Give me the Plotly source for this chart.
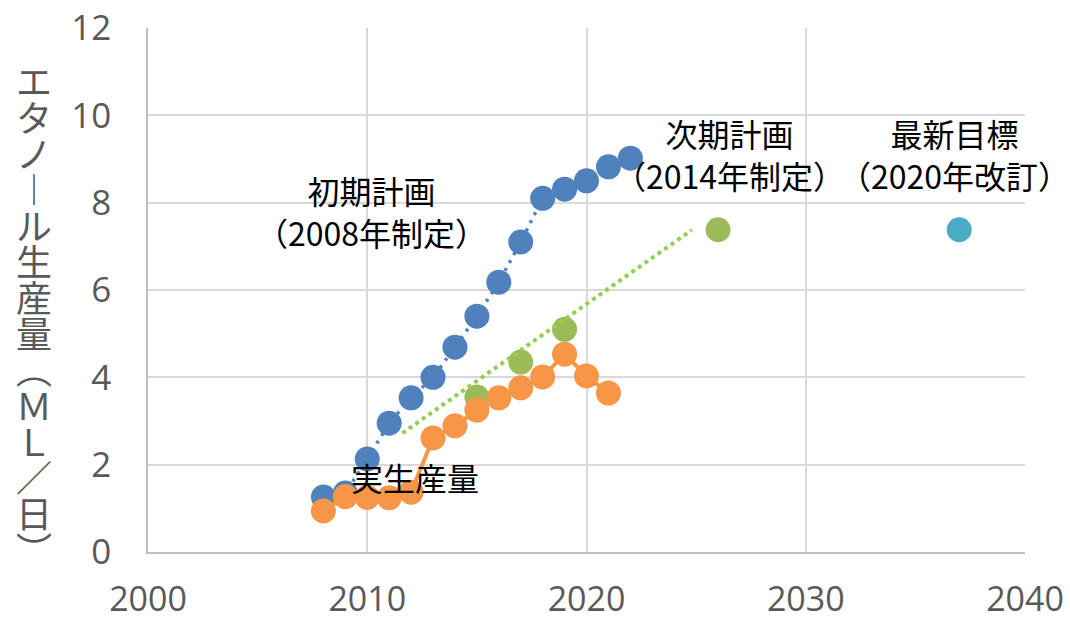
import plotly.graph_objects as go

# ---- data ----
plan2008_years = [2008, 2009, 2010, 2011, 2012, 2013, 2014, 2015, 2016, 2017, 2018, 2019, 2020, 2021, 2022]
plan2008_values = [1.26, 1.35, 2.13, 2.95, 3.53, 4.0, 4.69, 5.4, 6.18, 7.1, 8.1, 8.31, 8.5, 8.82, 9.02]

plan2014_years = [2015, 2017, 2019, 2026]
plan2014_values = [3.55, 4.35, 5.1, 7.38]

trend_years = [2011.6, 2024.8]
trend_values = [2.72, 7.37]

actual_years = [2008, 2009, 2010, 2011, 2012, 2013, 2014, 2015, 2016, 2017, 2018, 2019, 2020, 2021]
actual_values = [0.94, 1.27, 1.25, 1.24, 1.37, 2.61, 2.89, 3.25, 3.53, 3.76, 4.01, 4.53, 4.03, 3.64]

target2020_years = [2037]
target2020_values = [7.38]

x_ticks = [2000, 2010, 2020, 2030, 2040]
y_ticks = [0, 2, 4, 6, 8, 10, 12]

y_title_chars = ["エ", "タ", "ノ", "︱", "ル", "生", "産", "量", "︵", "Ｍ", "Ｌ", "／", "日", "︶"]

BLUE = "#4F81BD"
ORANGE = "#F79646"
GREEN = "#9BBB59"
TREND = "#92D050"
TEAL = "#4BACC6"
MS = 25

fig = go.Figure()

fig.add_trace(go.Scatter(
    x=plan2008_years, y=plan2008_values, mode="lines+markers",
    line=dict(color=BLUE, width=3.5, dash="3px,6px"),
    marker=dict(color=BLUE, size=MS, line=dict(width=0)),
    showlegend=False, hoverinfo="skip"))

fig.add_trace(go.Scatter(
    x=plan2014_years, y=plan2014_values, mode="markers",
    marker=dict(color=GREEN, size=MS, line=dict(width=0)),
    showlegend=False, hoverinfo="skip"))

fig.add_trace(go.Scatter(
    x=trend_years, y=trend_values, mode="lines",
    line=dict(color=TREND, width=4, dash="4px,4px"),
    showlegend=False, hoverinfo="skip"))

fig.add_trace(go.Scatter(
    x=actual_years, y=actual_values, mode="lines+markers",
    line=dict(color=ORANGE, width=4),
    marker=dict(color=ORANGE, size=MS, line=dict(width=0)),
    showlegend=False, hoverinfo="skip"))

fig.add_trace(go.Scatter(
    x=target2020_years, y=target2020_values, mode="markers",
    marker=dict(color=TEAL, size=MS, line=dict(width=0)),
    showlegend=False, hoverinfo="skip"))

CJK = "Noto Sans CJK JP"
ann_font = dict(family=CJK, size=32, color="#000000")

annotations = [
    dict(x=2010.2, y=7.81, xref="x", yref="y", text="初期計画<br>（2008年制定）",
         showarrow=False, font=ann_font, xanchor="center", yanchor="middle"),
    dict(x=2026.5, y=9.12, xref="x", yref="y", text="次期計画<br>（2014年制定）",
         showarrow=False, font=ann_font, xanchor="center", yanchor="middle"),
    dict(x=2036.8, y=9.12, xref="x", yref="y", text="最新目標<br>（2020年改訂）",
         showarrow=False, font=ann_font, xanchor="center", yanchor="middle"),
    dict(x=2012.2, y=1.72, xref="x", yref="y", text="実生産量",
         showarrow=False, font=ann_font, xanchor="center", yanchor="middle"),
    dict(x=-0.13, y=0.454, xref="paper", yref="paper",
         text="<br>".join("<span style='font-size:36px'>%s</span>" % c for c in y_title_chars),
         showarrow=False, font=dict(family=CJK, size=27.7, color="#595959"),
         xanchor="center", yanchor="middle"),
]

x_tick_font = dict(family="Open Sans", size=34, color="#595959")
y_tick_font = dict(family="Open Sans", size=35, color="#595959")

fig.update_layout(
    width=1070, height=620,
    margin=dict(l=148, r=45, t=28, b=68),
    paper_bgcolor="white", plot_bgcolor="white",
    annotations=annotations,
    xaxis=dict(range=[2000, 2040], tickvals=x_ticks, ticktext=[str(v) for v in x_ticks],
               showgrid=True, gridcolor="#D9D9D9", gridwidth=1.5,
               showline=True, linecolor="#BFBFBF", linewidth=1.5,
               zeroline=False, ticks="", tickfont=x_tick_font, ticklabelstandoff=16,
               automargin=False),
    yaxis=dict(range=[0, 12], tickvals=y_ticks, ticktext=[str(v) for v in y_ticks],
               showgrid=True, gridcolor="#D9D9D9", gridwidth=1.5,
               showline=True, linecolor="#BFBFBF", linewidth=1.5,
               zeroline=False, ticks="", tickfont=y_tick_font, ticklabelstandoff=28,
               automargin=False),
)

fig.write_html("out.html")
